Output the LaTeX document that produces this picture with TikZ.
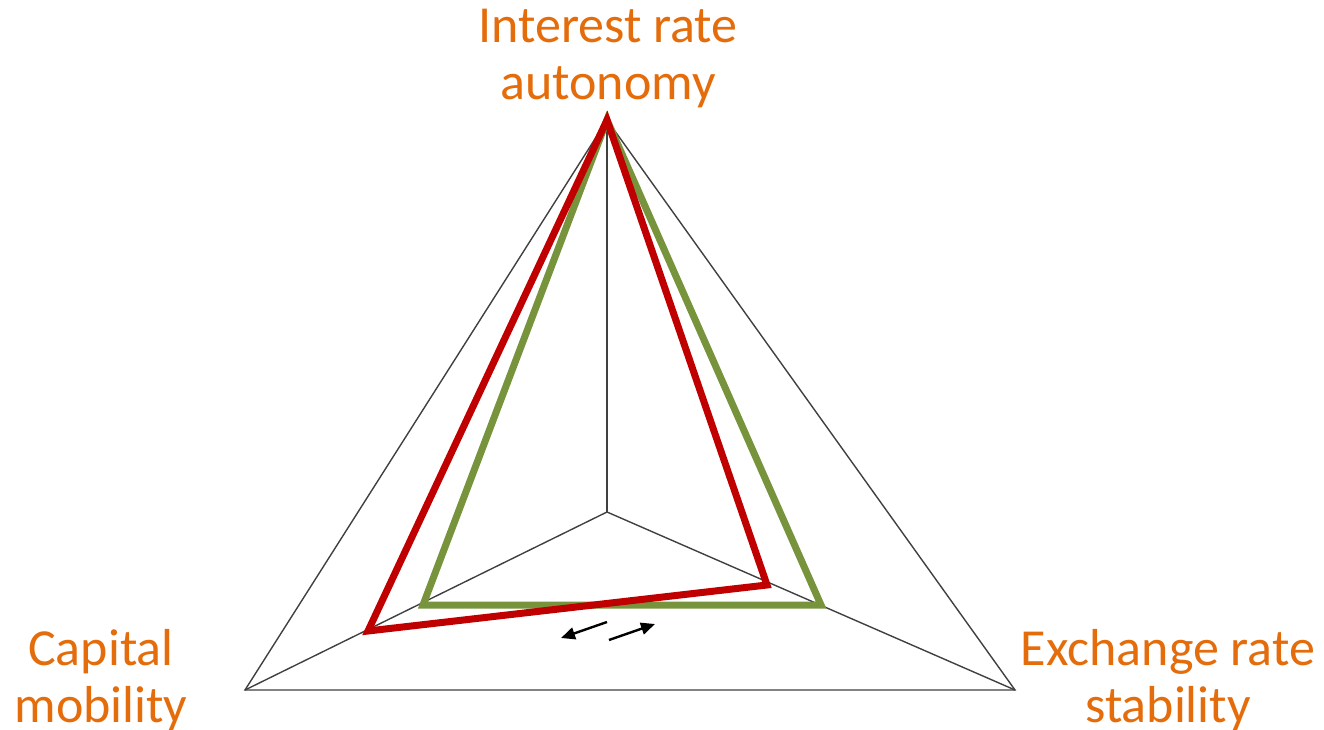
\documentclass[tikz,border=0pt]{standalone}
\usepackage{fontspec}
\setmainfont{Carlito}
\usetikzlibrary{arrows.meta}
\definecolor{lblorange}{RGB}{228,108,10}
\definecolor{axisgray}{RGB}{64,64,64}
\definecolor{pgreen}{RGB}{119,147,60}
\definecolor{pred}{RGB}{192,0,0}
\tikzset{
  axis/.style={draw=axisgray, line width=1.4pt},
  poly/.style={line width=7pt, line join=miter, miter limit=10},
  lbl/.style={text=lblorange, font=\fontsize{52}{57}\selectfont, align=center, inner sep=0pt, anchor=base},
  shift arrow/.style={-{Triangle[length=14pt,width=12pt]}, line width=2.4pt, black}
}
\begin{document}
\begin{tikzpicture}[x=1pt,y=-1pt]
\useasboundingbox (0,0) rectangle (1324,730);
\coordinate (top) at (607,120);
\coordinate (bl) at (245,690);
\coordinate (br) at (1015,690);
\coordinate (c) at (607,512);
\draw[axis] (top) -- (bl) -- (br) -- cycle;
\draw[axis] (c) -- (top);
\draw[axis] (c) -- (bl);
\draw[axis] (c) -- (br);
\coordinate (gl) at (423,605);
\coordinate (gr) at (821,605);
\coordinate (rl) at (368,631);
\coordinate (rr) at (767,585);
\draw[poly, draw=pgreen] (top) -- (gl) -- (gr) -- cycle;
\draw[poly, draw=pred] (top) -- (rl) -- (rr) -- cycle;
\coordinate (a1s) at (607,622);
\coordinate (a1e) at (561,638);
\coordinate (a2s) at (609,640);
\coordinate (a2e) at (655,624);
\draw[shift arrow] (a1s) -- (a1e);
\draw[shift arrow] (a2s) -- (a2e);
\node[lbl] (ira) at (608,100) {Interest rate\\autonomy};
\node[lbl] (cm) at (101,722) {Capital\\mobility};
\node[lbl] (ers) at (1168,722) {Exchange rate\\stability};
\end{tikzpicture}
\end{document}
